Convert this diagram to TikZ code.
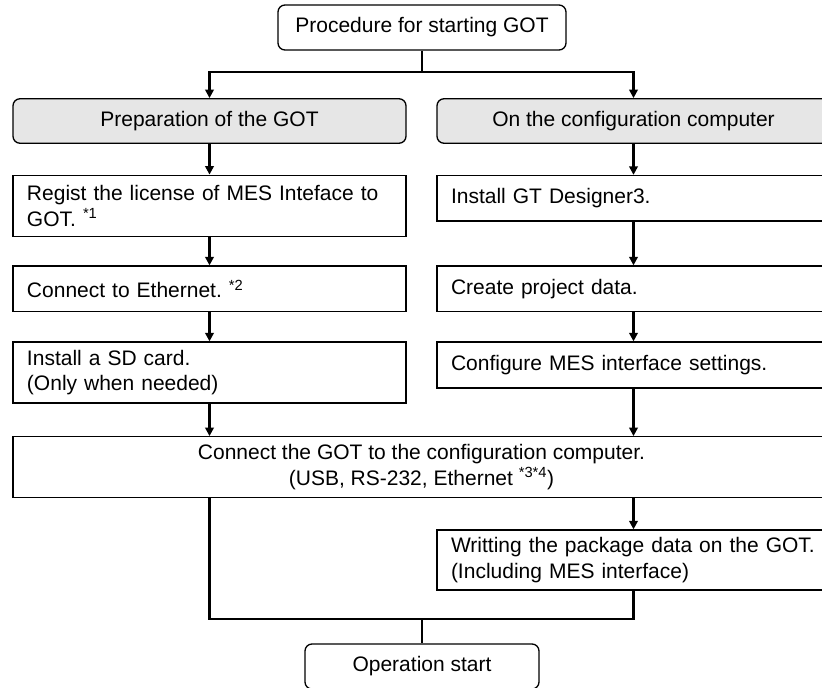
\documentclass[tikz,border=0pt]{standalone}
\usepackage{fontspec}
\setmainfont{Liberation Sans}
\usetikzlibrary{arrows.meta}
\frenchspacing
\definecolor{headgray}{HTML}{E6E6E6}
\tikzset{
  box/.style={draw, line width=1.3pt, fill=white, inner xsep=14pt, inner ysep=0pt, align=left},
  colbox/.style={box, text width=365pt},
  headbox/.style={draw, line width=1.3pt, rounded corners=7pt, fill=headgray, minimum width=393pt, minimum height=44.5pt},
  endbox/.style={draw, line width=1.3pt, rounded corners=7pt, fill=white, minimum height=45pt},
  link/.style={line width=2.2pt},
  flow/.style={link, -{Triangle[width=8.5pt,length=8.5pt]}}
}

\begin{document}
\begin{tikzpicture}[x=1pt, y=-1pt, font=\fontsize{21}{25.5}\selectfont]
  \useasboundingbox (0,0) rectangle (822,688);
  \clip (0,0) rectangle (822,688);

  % Start and end
  \node[endbox, minimum width=288pt] (start) at (422,27.5) {Procedure for starting GOT};
  \node[endbox, minimum width=234pt] (opstart) at (422,666.5) {Operation start};

  % Column heads
  \node[headbox] (prep) at (209.5,121) {Preparation of the GOT};
  \node[headbox] (pc) at (633.5,121) {On the configuration computer};

  % Left column: GOT
  \node[colbox, minimum height=61pt] (license) at (209.5,205.75) {Regist the license of MES Inteface to\\GOT. \textsuperscript{*1}};
  \node[colbox, minimum height=45.5pt] (ether) at (209.5,288.75) {Connect to Ethernet. \textsuperscript{*2}};
  \node[colbox, minimum height=61pt] (sdcard) at (209.5,372.5) {Install a SD card.\\(Only when needed)};

  % Right column: computer
  \node[colbox, minimum height=45.5pt] (install) at (633.5,198.25) {Install GT Designer3.};
  \node[colbox, minimum height=45.5pt] (project) at (633.5,288.75) {Create project data.};
  \node[colbox, minimum height=46pt] (messet) at (633.5,365) {Configure MES interface settings.};

  % Common steps
  \node[box, align=center, minimum width=817pt, minimum height=60.5pt] (connect) at (421.5,467) {Connect the GOT to the configuration computer.\\(USB, RS-232, Ethernet \textsuperscript{*3*4})};
  \node[colbox, minimum height=60pt] (write) at (633.5,560) {Writting the package data on the GOT.\\(Including MES interface)};

  \coordinate (split) at (422,72);
  \coordinate (merge) at (422,619);

  % Connectors
  \draw[link] (start) -- (split);
  \draw[flow] (split) -| (prep.north);
  \draw[flow] (split) -| (pc.north);
  \draw[flow] (prep) -- (license);
  \draw[flow] (license) -- (ether);
  \draw[flow] (ether) -- (sdcard);
  \draw[flow] (pc) -- (install);
  \draw[flow] (install) -- (project);
  \draw[flow] (project) -- (messet);
  \draw[flow] (sdcard) -- (sdcard |- connect.north);
  \draw[flow] (messet) -- (messet |- connect.north);
  \draw[flow] (write |- connect.south) -- (write);
  \draw[link] (sdcard |- connect.south) |- (merge) -| (write.south);
  \draw[link] (merge) -- (opstart);
\end{tikzpicture}
\end{document}
